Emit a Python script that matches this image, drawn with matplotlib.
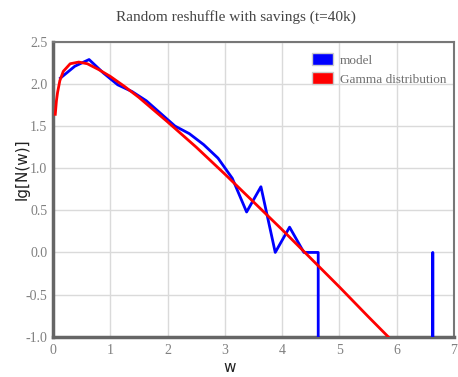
import matplotlib.pyplot as plt
from matplotlib.patches import Patch
import numpy as np

# histogram of the model (bin centres, lg of counts); empty bins -> -inf
model_w = [0.13, 0.38, 0.63, 0.88, 1.13, 1.38, 1.63, 1.88, 2.13, 2.38,
           2.63, 2.88, 3.13, 3.38, 3.63, 3.88, 4.13, 4.38, 4.63, 4.88,
           5.13, 5.38, 5.63, 5.88, 6.13, 6.38, 6.63, 6.88]
model_lg = [2.07, 2.21, 2.29, 2.13, 1.99, 1.91, 1.80, 1.65, 1.50, 1.41,
            1.28, 1.12, 0.88, 0.48, 0.78, 0.0, 0.30, 0.0, 0.0, -np.inf,
            -np.inf, -np.inf, -np.inf, -np.inf, -np.inf, -np.inf, 0.0, -np.inf]

# gamma distribution fit
gamma_w = [0.04, 0.06, 0.08, 0.12, 0.18, 0.3, 0.45, 0.6, 0.8, 1.0, 1.25,
           1.5, 2.0, 2.5, 3.0, 3.5, 4.0, 4.5, 5.0, 5.5, 5.85]
gamma_lg = [1.64, 1.80, 1.90, 2.04, 2.15, 2.24, 2.26, 2.24, 2.17, 2.09, 1.97,
            1.84, 1.55, 1.25, 0.93, 0.60, 0.27, -0.07, -0.41, -0.76, -1.0]

x_ticks = [0, 1, 2, 3, 4, 5, 6, 7]
y_ticks = [-1.0, -0.5, 0.0, 0.5, 1.0, 1.5, 2.0, 2.5]

serif = 'Liberation Serif'
grey = '#808080'

fig = plt.figure(figsize=(4.58, 3.77), dpi=100)
ax = fig.add_axes([0.1157, 0.107, 0.8755, 0.782])

# replace -inf with a very low value so the drop is drawn as a vertical line
blue_y = np.where(np.isinf(model_lg), -1000.0, model_lg)
ax.plot(model_w, blue_y, color='#0000ff', lw=2.0, zorder=3)
ax.plot(gamma_w, gamma_lg, color='#ff0000', lw=2.0, zorder=4)

ax.set_xlim(0, 7)
ax.set_ylim(-1.0, 2.5)
ax.set_xticks(x_ticks)
ax.set_yticks(y_ticks)
ax.set_xticklabels([str(v) for v in x_ticks], fontfamily=serif, color=grey, fontsize=10)
ax.set_yticklabels(['%.1f' % v for v in y_ticks], fontfamily=serif, color=grey, fontsize=10)
ax.tick_params(axis='x', length=0, pad=5)
ax.tick_params(axis='y', length=0, pad=4)
ax.grid(True, color='#dadada', lw=1)
ax.set_axisbelow(True)

for side in ['top', 'right']:
    ax.spines[side].set_color('#777777')
    ax.spines[side].set_linewidth(1.5)
for side in ['left', 'bottom']:
    ax.spines[side].set_color('#666666')
    ax.spines[side].set_linewidth(2.5)

fig.text(0.515, 0.955, 'Random reshuffle with savings (t=40k)', ha='center', va='center',
         fontfamily=serif, fontsize=11, color='#444444')
fig.text(0.502, 0.025, 'w', ha='center', va='center', fontsize=11, color='#222222')
fig.text(0.048, 0.55, 'lg[N(w)]', ha='center', va='center', rotation=90,
         fontsize=11, color='#222222')

handles = [Patch(facecolor='#0000ff', edgecolor='#cccccc', lw=1, label='model'),
           Patch(facecolor='#ff0000', edgecolor='#cccccc', lw=1, label='Gamma distribution')]
leg = ax.legend(handles=handles, loc='upper right', bbox_to_anchor=(1.0, 0.99),
                frameon=False, prop={'family': serif, 'size': 9.5},
                handlelength=1.6, handleheight=1.1, handletextpad=0.5,
                labelspacing=0.4, borderaxespad=0.2)
for t in leg.get_texts():
    t.set_color('#707070')

fig.savefig('out.png', dpi=100)
